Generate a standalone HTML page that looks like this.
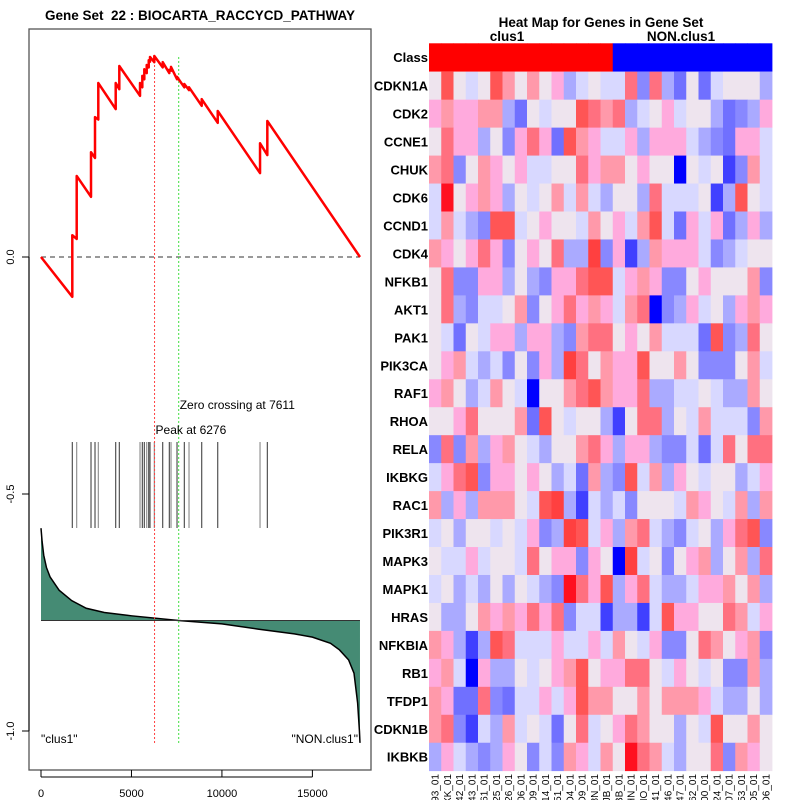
<!DOCTYPE html>
<html><head><meta charset="utf-8"><style>
html,body{margin:0;padding:0;background:#fff}
svg{display:block;font-family:"Liberation Sans",sans-serif}
</style></head><body>
<svg id="c" width="800" height="800" viewBox="0 0 800 800"></svg>
<script>
// ---------- data ----------
const esRank  = [0,1730,1730,1973,1973,2764,2764,2985,2985,3167,3167,4129,4129,4328,4328,5473,5473,5600,5600,5710,5710,5843,5843,5954,5954,6025,6025,6263,6263,6727,6727,7092,7092,7186,7186,7518,7518,7921,7921,8181,8181,8883,8883,9768,9768,12106,12106,12509,12509,17630];
const esValue = [0,-0.084,0.046,0.038,0.171,0.127,0.221,0.209,0.295,0.29,0.367,0.312,0.367,0.354,0.403,0.340,0.367,0.358,0.382,0.375,0.396,0.388,0.405,0.400,0.415,0.412,0.422,0.411,0.424,0.400,0.411,0.388,0.395,0.393,0.401,0.375,0.380,0.358,0.365,0.352,0.358,0.319,0.333,0.283,0.308,0.177,0.240,0.215,0.287,0];
const hitRanks = [1730,1973,2764,2985,3167,4129,4328,5473,5600,5710,5843,5954,6025,6263,6727,7092,7186,7518,7921,8181,8883,9768,12106,12509];
const metricRank  = [0,60,150,300,500,1000,1700,2500,3500,5000,7600,10000,12000,14000,15000,16000,16500,17000,17300,17500,17600,17630];
const metricValue = [-0.572,-0.600,-0.629,-0.655,-0.675,-0.703,-0.725,-0.741,-0.750,-0.757,-0.767,-0.774,-0.785,-0.795,-0.802,-0.815,-0.829,-0.850,-0.878,-0.941,-1.000,-1.025];
const metricBase = -0.767;
const xTicks = [0,5000,10000,15000];
const yTicks = [0,-0.5,-1.0];
const yTickLabels = ["0.0","-0.5","-1.0"];
const peakRank = 6276, zeroRank = 7611;

const genes = ["CDKN1A","CDK2","CCNE1","CHUK","CDK6","CCND1","CDK4","NFKB1","AKT1","PAK1","PIK3CA","RAF1","RHOA","RELA","IKBKG","RAC1","PIK3R1","MAPK3","MAPK1","HRAS","NFKBIA","RB1","TFDP1","CDKN1B","IKBKB"];
const samples = ["GSM1593_01","GSM1XK_01","GSM1042_01","GSM1043_01","GSM1061_01","GSM1325_01","GSM1326_01","GSM1906_01","GSM1909_01","GSM1914_01","GSM1351_01","GSM14D4_01","GSM14D9_01","GSM168N_01","GSM1SJB_01","GSM1BB_01","GSM1HN_01","GSM1HO_01","GSM1041_01","GSM1046_01","GSM1047_01","GSM1062_01","GSM1000_01","GSM1324_01","GSM1907_01","GSM1353_01","GSM1HD5_01","GSM1HD6_01"];
const classes = [0,0,0,0,0,0,0,0,0,0,0,0,0,0,0,1,1,1,1,1,1,1,1,1,1,1,1,1];
// level codes: Q=-6 P=-5 O=-4 N=-3 M=-2 L=-1 W=0 a=1 b=2 c=3 d=4 e=5 f=6
const heat = [
"WdWLWdbWbWaMLWLLcNcMOWOLWWWM",
"abaabbMOWLWWdcbcMLWaLWWMONMa",
"WcaaMWNacaOdbaLLaMaaaLMNOaaL",
"bcNWbaWaLLWWcabbWaWWQWLWPNbL",
"LfWabaMWLWbLbLMWWMcLLLWPMdWL",
"LbLMNddLWaWWLbWaLbdLOaLaOMaM",
"baWacaNWaWcMMeNaPMbaaaLNMLWW",
"WcNNaaMWMNaacddLabaNNWaWWWbN",
"WcMNLLWbNWacabaLbcQNMaLWMaba",
"WLOWLaaMaaMNbccWaWbLLLOdNMcW",
"WabLMLNWNaMecWbaadWWbWNNNWbL",
"abWMLbWLQWWbcdbaacMMLLWLMMbW",
"WWacWWWbOdWLWWMPWccMWLbLLLNb",
"NcNbMabWLMWWbcaMaaMNNLOLcWcc",
"LacdNaaWaWMLObMNdLbMaWLWWMLa",
"bMaMbbbWLdeMPLMLNWWWLbaWLbMb",
"LWMWWLWLaNMedLaMbcLMNLWMacdN",
"WLLaLWWLcWaaNaWQeLWNWabMWbMc",
"LWMLMWMWLMNfcadMacLMMLaabWbM",
"WMMWbabacacNLLPMMPLdaaWWcbLa",
"baMPMdcLLLaLLaLbWLaNNWcbWabN",
"abLQaMMWLWabdWaaccWLaWLWNNbM",
"baOOcNOLLaLadbbWWbWbbbaLMMWM",
"bcNPLMbLWLOWcLWacbWWMWLdWWbW",
"MaLMNMaWNLNbaLbWfcbLMWWcNbaW"
];
const levelMap = {Q:-6,P:-5,O:-4,N:-3,M:-2,L:-1,W:0,a:1,b:2,c:3,d:4,e:5,f:6};
const palette = {"-6":"#0000FF","-5":"#4040FF","-4":"#7070FF","-3":"#8888FF","-2":"#AAAAFF","-1":"#D8D8FF","0":"#EEE4EE","1":"#FFAADD","2":"#FF99AA","3":"#FF7080","4":"#FF5555","5":"#FF4040","6":"#FF1020"};

// ---------- helpers ----------
const svg = document.getElementById('c');
const NS = "http://www.w3.org/2000/svg";
function mk(tag, attrs, parent){
  const e = document.createElementNS(NS, tag);
  for (const k in attrs) e.setAttribute(k, attrs[k]);
  (parent||svg).appendChild(e);
  return e;
}
const xS = r => 41 + r * 0.018093;
const yS = v => 257 - v * 474;

// ---------- left panel ----------
let t = mk('text',{x:200,y:20,'text-anchor':'middle','font-size':'13.5','font-weight':'bold',fill:'#000'});
t.textContent = "Gene Set\u00A0 22 : BIOCARTA_RACCYCD_PATHWAY";



let box = mk('rect',{x:29,y:29,width:342,height:741,fill:'none',stroke:'#555','stroke-width':1.3});



let ya = mk('line',{x1:29,x2:29,y1:yS(0),y2:yS(-1),stroke:'#000'});


yTicks.forEach((v,i)=>{
  const tk = mk('line',{x1:22,x2:29,y1:yS(v),y2:yS(v),stroke:'#000'});
  
  
  const lb = mk('text',{x:0,y:0,'text-anchor':'middle','font-size':'11',fill:'#000',transform:`translate(14,${yS(v)}) rotate(-90)`});
  lb.textContent = yTickLabels[i];
  
  
});
let xa = mk('line',{x1:xS(0),x2:xS(15000),y1:777,y2:777,stroke:'#000'});


xTicks.forEach(v=>{
  const tk = mk('line',{x1:xS(v),x2:xS(v),y1:770,y2:777,stroke:'#000'});
  
  
  const lb = mk('text',{x:xS(v),y:797,'text-anchor':'middle','font-size':'11',fill:'#000'});
  lb.textContent = String(v);
  
  
});

let zl = mk('line',{x1:xS(0),x2:xS(17630),y1:yS(0),y2:yS(0),stroke:'#333','stroke-dasharray':'5,4','stroke-width':1});



let pts = metricRank.map((r,i)=>`${xS(r)},${yS(metricValue[i])}`);
let poly = mk('polygon',{points:`${xS(0)},${yS(metricBase)} ${pts.join(' ')} ${xS(metricRank[metricRank.length-1])},${yS(metricBase)}`,fill:'#458B74',stroke:'none'});


let mline = mk('polyline',{points:pts.join(' '),fill:'none',stroke:'#000','stroke-width':1.5});


let bl = mk('line',{x1:xS(0),x2:xS(metricRank[metricRank.length-1]),y1:yS(metricBase),y2:yS(metricBase),stroke:'#333','stroke-width':1});



hitRanks.forEach((r,i)=>{
  const b = mk('line',{x1:xS(r),x2:xS(r),y1:442,y2:528,stroke:(i%3===1?'#888':'#444'),'stroke-width':1.1});
  
  
});

let pk = mk('line',{x1:xS(peakRank),x2:xS(peakRank),y1:57,y2:743,stroke:'#FF4040','stroke-dasharray':'2,2','stroke-width':1});


let zc = mk('line',{x1:xS(zeroRank),x2:xS(zeroRank),y1:57,y2:743,stroke:'#40E040','stroke-dasharray':'2,2','stroke-width':1});



let es = mk('polyline',{points:esRank.map((r,i)=>`${xS(r)},${yS(esValue[i])}`).join(' '),fill:'none',stroke:'#FF0000','stroke-width':2.5,'stroke-linejoin':'round'});



t = mk('text',{x:xS(zeroRank)+1,y:409,'font-size':'12',fill:'#000'});
t.textContent = "Zero crossing at 7611";


t = mk('text',{x:xS(peakRank)+1,y:434,'font-size':'12',fill:'#000'});
t.textContent = "Peak at 6276";


t = mk('text',{x:41,y:743,'font-size':'12',fill:'#000'});
t.textContent = '"clus1"';


t = mk('text',{x:358,y:743,'text-anchor':'end','font-size':'12',fill:'#000'});
t.textContent = '"NON.clus1"';



// ---------- heatmap ----------
const hx0 = 429, cw = 12.25, hy0 = 71.7, rh = 27.96;
t = mk('text',{x:601,y:27,'text-anchor':'middle','font-size':'13.5','font-weight':'bold',fill:'#000'});
t.textContent = "Heat Map for Genes in Gene Set";


t = mk('text',{x:507,y:41,'text-anchor':'middle','font-size':'13.5','font-weight':'bold',fill:'#000'});
t.textContent = "clus1";


t = mk('text',{x:681,y:41,'text-anchor':'middle','font-size':'13.5','font-weight':'bold',fill:'#000'});
t.textContent = "NON.clus1";


t = mk('text',{x:428,y:62,'text-anchor':'end','font-size':'13','font-weight':'bold',fill:'#000'});
t.textContent = "Class";



classes.forEach((c,j)=>{
  const r = mk('rect',{x:hx0+j*cw,y:43.3,width:cw+0.4,height:hy0-43.3,fill:c===0?'#FF0000':'#0000FF'});
  
  
});

genes.forEach((g,i)=>{
  const row = heat[i];
  for (let j=0;j<samples.length;j++){
    const v = levelMap[row[j]];
    const r = mk('rect',{x:hx0+j*cw,y:hy0+i*rh,width:cw+0.4,height:rh+0.4,fill:palette[String(v)]});
    
    
  }
  const lb = mk('text',{x:428,y:hy0+i*rh+rh/2+5,'text-anchor':'end','font-size':'13','font-weight':'bold',fill:'#000'});
  lb.textContent = g;
  
  
});

samples.forEach((s,j)=>{
  const lb = mk('text',{x:0,y:0,'text-anchor':'end','font-size':'10',fill:'#000',transform:`translate(${hx0+j*cw+cw/2+3.5},774) rotate(-90)`});
  lb.textContent = s;
  
  
});
</script>
</body></html>
